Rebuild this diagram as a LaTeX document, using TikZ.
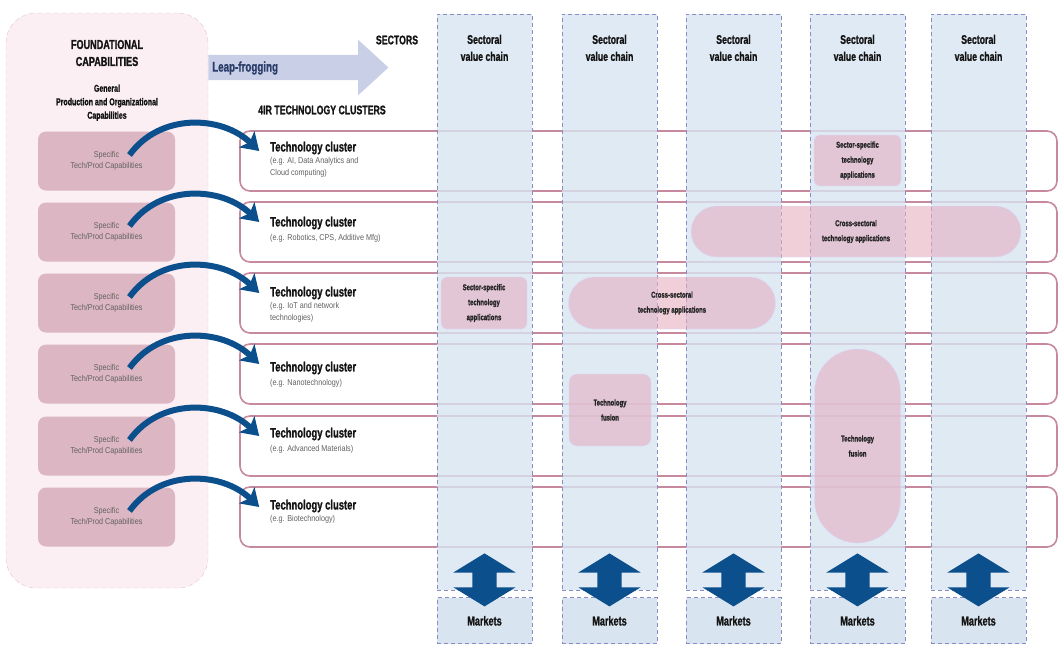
\documentclass[tikz,border=0pt]{standalone}
\usepackage{fontspec}
\setmainfont{Liberation Sans}
\newfontfamily\headfont[FakeStretch=0.7, FakeBold=1.2]{Liberation Sans}
\newfontfamily\notefont[FakeStretch=0.85]{Liberation Sans}
\usetikzlibrary{arrows.meta, positioning, shapes.arrows}
\definecolor{colblue}{HTML}{D8E5F1}
\definecolor{coledge}{HTML}{8A8DC2}
\definecolor{foundbg}{HTML}{FBEFF3}
\definecolor{foundedge}{HTML}{E6C3CF}
\definecolor{capfill}{HTML}{DDB6C3}
\definecolor{clusteredge}{HTML}{C7899E}
\definecolor{appfill}{HTML}{E6AFC1}
\definecolor{darkblue}{HTML}{0B4F8C}
\definecolor{leapblue}{HTML}{C9CFE7}
\definecolor{leaptext}{HTML}{2B3D6B}
\definecolor{headtext}{HTML}{141414}

\begin{document}
\begin{tikzpicture}[
  x=1pt, y=-1pt,
  found/.style={rectangle, rounded corners=30pt, draw=foundedge, dash pattern=on 5pt off 3pt,
    fill=foundbg, minimum width=202pt, minimum height=575pt},
  capbox/.style={rectangle, rounded corners=8pt, fill=capfill, minimum width=137pt,
    minimum height=59pt, align=center, text=black!62,
    font=\notefont\fontsize{8.5}{11}\selectfont},
  cluster/.style={rectangle, rounded corners=10pt, draw=clusteredge, line width=1.6pt,
    fill=white, minimum width=817pt, minimum height=60pt},
  clutitle/.style={inner sep=0pt, text=headtext, font=\headfont\bfseries\fontsize{13.5}{15}\selectfont},
  clunote/.style={inner sep=0pt, align=left, text=black!62,
    font=\notefont\fontsize{8.5}{12}\selectfont},
  column/.style={rectangle, draw=coledge, line width=0.8pt, dash pattern=on 4pt off 3pt,
    fill=colblue, fill opacity=0.8, minimum width=95pt, minimum height=576pt},
  market/.style={rectangle, draw=coledge, line width=0.8pt, dash pattern=on 4pt off 3pt,
    fill=colblue, minimum width=95pt, minimum height=46pt, text=headtext,
    font=\headfont\bfseries\fontsize{13}{15}\selectfont},
  colhead/.style={inner sep=0pt, align=center, text=headtext,
    font=\headfont\bfseries\fontsize{12.5}{17}\selectfont},
  heading/.style={inner sep=0pt, align=center, text=headtext,
    font=\headfont\bfseries\fontsize{12.5}{17}\selectfont},
  app/.style={rectangle, draw=blue!15, fill=appfill, fill opacity=0.6, text opacity=1,
    align=center, text=black!85, font=\headfont\bfseries\fontsize{8.5}{15}\selectfont},
  updown/.style={double arrow, shape border rotate=90, fill=darkblue, inner sep=12pt,
    minimum height=53pt, minimum width=62pt, double arrow head extend=19pt,
    double arrow tip angle=117},
  jump/.style={-{Stealth[width=22pt, length=17pt, inset=4pt]}, line width=6pt, darkblue}
]
  \useasboundingbox (0,0) rectangle (1059,649);

  %% foundational capabilities
  \node[found] (found) at (107,300.5) {};
  \node[heading, font=\headfont\bfseries\fontsize{13}{17}\selectfont] (fhead) at (107,53) {FOUNDATIONAL\\CAPABILITIES};
  \node[heading, font=\headfont\bfseries\fontsize{10}{13.5}\selectfont, below=18pt of fhead] (fsub)
    {General\\Production and Organizational\\Capabilities};

  \node[capbox] (spec1) at (106.5,161) {Specific\\Tech/Prod Capabilities};
  \node[capbox] (spec2) at (106.5,232) {Specific\\Tech/Prod Capabilities};
  \node[capbox] (spec3) at (106.5,303) {Specific\\Tech/Prod Capabilities};
  \node[capbox] (spec4) at (106.5,374) {Specific\\Tech/Prod Capabilities};
  \node[capbox] (spec5) at (106.5,446) {Specific\\Tech/Prod Capabilities};
  \node[capbox] (spec6) at (106.5,517) {Specific\\Tech/Prod Capabilities};

  %% leap-frogging
  \node[single arrow, fill=leapblue, inner sep=12.5pt, minimum height=180pt, minimum width=55pt,
    single arrow head extend=15pt, single arrow tip angle=85] (leap) at (291.5,67.5) {};
  \node[inner sep=0pt, anchor=west, text=leaptext, font=\headfont\bfseries\fontsize{14}{15}\selectfont]
    (leaptxt) at (212,68) {Leap-frogging};
  \node[heading] (sectors) at (397,40) {SECTORS};
  \node[heading] (clusters) at (322,110) {4IR TECHNOLOGY CLUSTERS};

  %% technology clusters
  \node[cluster] (clu1) at (648.5,161) {};
  \node[cluster] (clu2) at (648.5,232) {};
  \node[cluster] (clu3) at (648.5,303) {};
  \node[cluster] (clu4) at (648.5,374) {};
  \node[cluster] (clu5) at (648.5,446) {};
  \node[cluster] (clu6) at (648.5,517) {};

  %% sectoral value chains
  \node[column] (col1) at (484.5,302) {};
  \node[column] (col2) at (609.5,302) {};
  \node[column] (col3) at (733.5,302) {};
  \node[column] (col4) at (857.5,302) {};
  \node[column] (col5) at (978.5,302) {};
  \node[colhead, below=21pt of col1.north] (head1) {Sectoral\\value chain};
  \node[colhead, below=21pt of col2.north] (head2) {Sectoral\\value chain};
  \node[colhead, below=21pt of col3.north] (head3) {Sectoral\\value chain};
  \node[colhead, below=21pt of col4.north] (head4) {Sectoral\\value chain};
  \node[colhead, below=21pt of col5.north] (head5) {Sectoral\\value chain};

  %% applications
  \node[app, rounded corners=6pt, minimum width=87pt, minimum height=51pt] (spapp1) at (857.5,160.5)
    {Sector-specific\\technology\\applications};
  \node[app, rounded corners=25.5pt, minimum width=330pt, minimum height=51pt] (crapp1) at (856,231.5)
    {Cross-sectoral\\technology applications};
  \node[app, rounded corners=6pt, minimum width=86pt, minimum height=52pt] (spapp2) at (484,303)
    {Sector-specific\\technology\\applications};
  \node[app, rounded corners=26pt, minimum width=207pt, minimum height=52pt] (crapp2) at (672,303)
    {Cross-sectoral\\technology applications};
  \node[app, rounded corners=8pt, minimum width=82pt, minimum height=72pt] (fuse1) at (610,410)
    {Technology\\fusion};
  \node[app, rounded corners=42.9pt, minimum width=86pt, minimum height=194pt] (fuse2) at (857.5,446)
    {Technology\\fusion};

  %% cluster texts
  \node[clutitle, anchor=west] (tit1) at (270,148) {Technology cluster};
  \node[clunote, below=3pt of tit1.south west, anchor=north west] {(e.g. AI, Data Analytics and\\Cloud computing)};
  \node[clutitle, anchor=west] (tit2) at (270,223) {Technology cluster};
  \node[clunote, below=5pt of tit2.south west, anchor=north west] {(e.g. Robotics, CPS, Additive Mfg)};
  \node[clutitle, anchor=west] (tit3) at (270,293) {Technology cluster};
  \node[clunote, below=3pt of tit3.south west, anchor=north west] {(e.g. IoT and network\\technologies)};
  \node[clutitle, anchor=west] (tit4) at (270,368) {Technology cluster};
  \node[clunote, below=5pt of tit4.south west, anchor=north west] {(e.g. Nanotechnology)};
  \node[clutitle, anchor=west] (tit5) at (270,434) {Technology cluster};
  \node[clunote, below=5pt of tit5.south west, anchor=north west] {(e.g. Advanced Materials)};
  \node[clutitle, anchor=west] (tit6) at (270,506) {Technology cluster};
  \node[clunote, below=3pt of tit6.south west, anchor=north west] {(e.g. Biotechnology)};

  %% capability jumps
  \draw[jump] ([shift={(23,-6)}]spec1.center) .. controls +(30,-42) and +(-38,-36) .. ([shift={(20,-10)}]clu1.west);
  \draw[jump] ([shift={(23,-6)}]spec2.center) .. controls +(30,-42) and +(-38,-36) .. ([shift={(20,-10)}]clu2.west);
  \draw[jump] ([shift={(23,-6)}]spec3.center) .. controls +(30,-42) and +(-38,-36) .. ([shift={(20,-10)}]clu3.west);
  \draw[jump] ([shift={(23,-6)}]spec4.center) .. controls +(30,-42) and +(-38,-36) .. ([shift={(20,-10)}]clu4.west);
  \draw[jump] ([shift={(23,-6)}]spec5.center) .. controls +(30,-42) and +(-38,-36) .. ([shift={(20,-10)}]clu5.west);
  \draw[jump] ([shift={(23,-6)}]spec6.center) .. controls +(30,-42) and +(-38,-36) .. ([shift={(20,-10)}]clu6.west);

  %% markets
  \node[market, below=7pt of col1] (mkt1) {Markets};
  \node[market, below=7pt of col2] (mkt2) {Markets};
  \node[market, below=7pt of col3] (mkt3) {Markets};
  \node[market, below=7pt of col4] (mkt4) {Markets};
  \node[market, below=7pt of col5] (mkt5) {Markets};
  \node[updown] (ud1) at ([yshift=10.5pt]col1.south) {};
  \node[updown] (ud2) at ([yshift=10.5pt]col2.south) {};
  \node[updown] (ud3) at ([yshift=10.5pt]col3.south) {};
  \node[updown] (ud4) at ([yshift=10.5pt]col4.south) {};
  \node[updown] (ud5) at ([yshift=10.5pt]col5.south) {};
\end{tikzpicture}
\end{document}
